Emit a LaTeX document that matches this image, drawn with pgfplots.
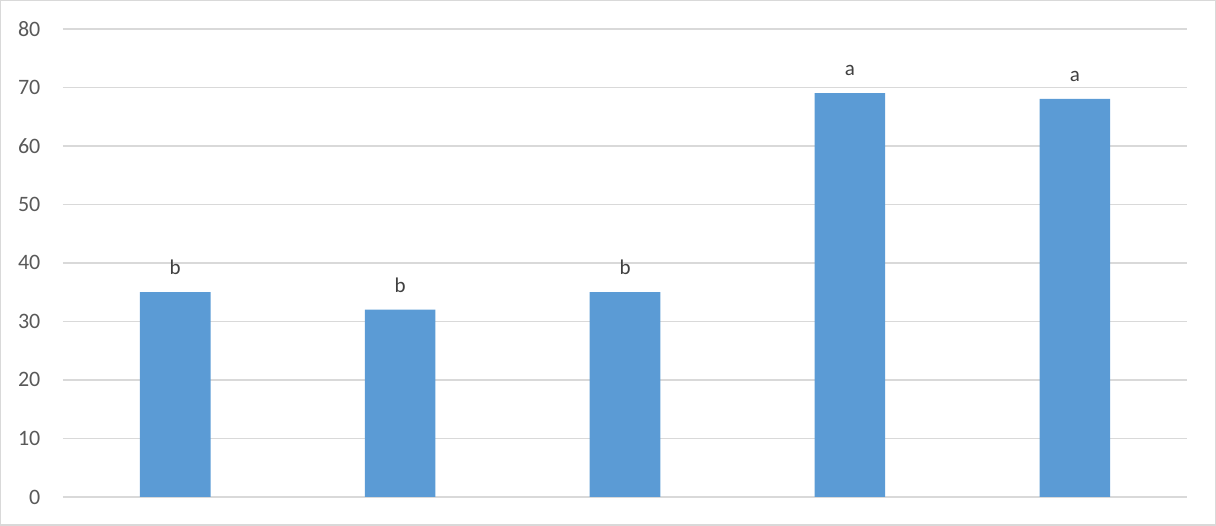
\documentclass[border=0pt]{standalone}
\usepackage{pgfplots}
\pgfplotsset{compat=1.18}
\usepackage{fontspec}
\setmainfont{Carlito}
\definecolor{barblue}{HTML}{5B9BD5}
\definecolor{gridgray}{HTML}{D9D9D9}
\definecolor{ticktext}{HTML}{595959}
\definecolor{labtext}{HTML}{404040}
\begin{document}
\begin{tikzpicture}
\begin{axis}[
  name=ax,
  at={(0,0)}, anchor=south west,
  scale only axis,
  width=562bp, height=234bp,
  xmin=-0.5, xmax=4.5,
  ymin=0, ymax=80,
  ytick={0,10,...,80},
  xtick=\empty,
  major tick length=0pt,
  axis line style={draw=none},
  ymajorgrids,
  grid style={gridgray, line width=0.75bp},
  yticklabel style={inner sep=0pt, xshift=-11bp, font=\fontsize{11bp}{13bp}\selectfont, text=ticktext},
  /pgf/number format/assume math mode=true,
  clip=false,
]
\addplot[ybar, bar width=0.3137, fill=barblue, draw=none,
  point meta=explicit symbolic,
  nodes near coords,
  nodes near coords style={anchor=south, inner sep=0pt, yshift=8.5bp, font=\fontsize{10.5bp}{12bp}\selectfont, text=labtext}]
  table[x=x, y=y, meta=l] {
x y l
0 35 b
1 32 b
2 35 b
3 69 a
4 68 a
};
\end{axis}
\draw[gridgray, line width=0.75bp]
  ([shift={(-31bp,-14bp)}]ax.south west) rectangle ([shift={(14bp,14bp)}]ax.north east);
\end{tikzpicture}
\end{document}
